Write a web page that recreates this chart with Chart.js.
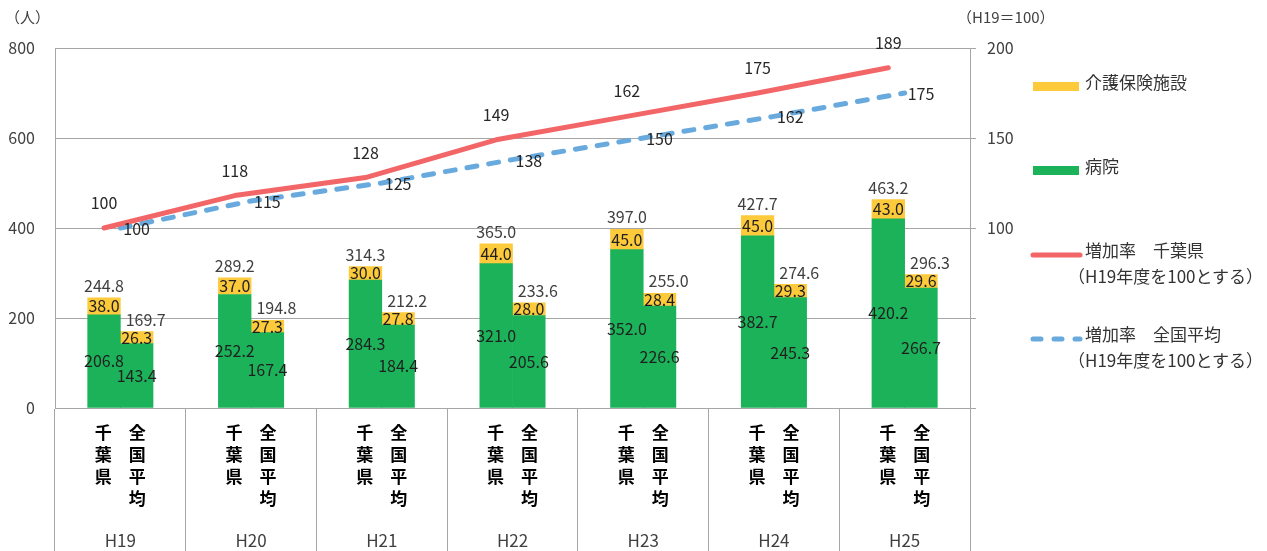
<!DOCTYPE html>
<html lang="ja">
<head>
<meta charset="utf-8">
<title>病床数の推移</title>
<script src="https://cdn.jsdelivr.net/npm/chart.js@4.4.1/dist/chart.umd.min.js"></script>
<style>
  body { margin: 0; background: #fff; font-family: "Noto Sans CJK JP", sans-serif; }
  #wrap { position: relative; width: 1267px; height: 551px; }
  #legend { position: absolute; left: 1030px; top: 0; width: 237px; height: 551px; }
  #legend .item { position: absolute; left: 0; height: 26px; line-height: 26px; font-size: 17px; color: #333; white-space: nowrap; }
  #legend .item:nth-child(1) { top: 69px; }
  #legend .item:nth-child(2) { top: 153px; }
  #legend .item:nth-child(3) { top: 237px; }
  #legend .item:nth-child(4) { top: 321px; }
  #legend .box { position: absolute; left: 3px; top: 13px; width: 46px; height: 9px; }
  #legend svg { position: absolute; left: 0; top: 13px; }
  #legend .text { position: absolute; left: 55px; top: 0; }
  #legend .note { position: absolute; left: 38px; top: 26px; }
</style>
</head>
<body>
<div id="wrap">
  <canvas id="bedChart"></canvas>
  <div id="legend"></div>
</div>
<script>
// 年度
const years = ['H19', 'H20', 'H21', 'H22', 'H23', 'H24', 'H25'];
// 縦書きの区分ラベル
const chibaChars = ['千', '葉', '県'];
const zenkokuChars = ['全', '国', '平', '均'];

// 病院 / 介護保険施設（人）
const hospChiba = [206.8, 252.2, 284.3, 321.0, 352.0, 382.7, 420.2];
const careChiba = [38.0, 37.0, 30.0, 44.0, 45.0, 45.0, 43.0];
const hospZenkoku = [143.4, 167.4, 184.4, 205.6, 226.6, 245.3, 266.7];
const careZenkoku = [26.3, 27.3, 27.8, 28.0, 28.4, 29.3, 29.6];
// 合計（表示値）
const totalChiba = [244.8, 289.2, 314.3, 365.0, 397.0, 427.7, 463.2];
const totalZenkoku = [169.7, 194.8, 212.2, 233.6, 255.0, 274.6, 296.3];

// 増加率（H19=100）
const rateChiba = [100, 118, 128, 149, 162, 175, 189];
const rateZenkoku = [100, 115, 125, 138, 150, 162, 175];

const careLabel = '介護保険施設';
const hospLabel = '病院';
const rateChibaLabel = '増加率　千葉県';
const rateZenkokuLabel = '増加率　全国平均';
const rateNote = '（H19年度を100とする）';

const green = '#1cb25a';
const yellow = '#fdca3c';
const red = '#f26668';
const blue = '#68aade';
const gridColor = '#a6a6a6';
const fontFamily = '"Noto Sans CJK JP", sans-serif';

Chart.defaults.font.family = fontFamily;

// 2本の棒が占めるカテゴリ幅の割合
const groupPct = 0.5;
// 千葉県の棒の中心（カテゴリ単位）
const chibaShift = -groupPct / 4;
const barWidth = (ctx) => ctx.chart.scales.x.width / years.length * groupPct / 2;

// 縦書き2列を全角スペースで並べる
const pairLines = [];
for (let k = 0; k < Math.max(chibaChars.length, zenkokuChars.length); k++) {
    pairLines.push((chibaChars[k] || '　') + '　' + (zenkokuChars[k] || '　'));
}

const valueLabels = {
    id: 'valueLabels',
    afterDatasetsDraw(chart) {
        const ctx = chart.ctx;
        ctx.save();
        ctx.font = '16px ' + fontFamily;
        ctx.textBaseline = 'middle';
        chart.data.datasets.forEach((ds, di) => {
            const meta = chart.getDatasetMeta(di);
            meta.data.forEach((el, i) => {
                if (ds.type === 'line') {
                    const v = ds.data[i].y;
                    ctx.fillStyle = '#262626';
                    if (ds.labelSide === 'right') {
                        ctx.textAlign = 'left';
                        ctx.fillText(v, el.x + 3, el.y + 1);
                    } else {
                        ctx.textAlign = 'center';
                        ctx.fillText(v, el.x, el.y - 25);
                    }
                    return;
                }
                ctx.textAlign = 'center';
                ctx.fillStyle = '#1f1f1f';
                ctx.fillText(ds.data[i].toFixed(1), el.x, (el.y + el.base) / 2);
                if (ds.totals) {
                    ctx.fillStyle = '#404040';
                    ctx.fillText(ds.totals[i].toFixed(1), el.x + ds.totalShift, el.y - 12);
                }
            });
        });
        ctx.restore();
    },
    afterDraw(chart) {
        const ctx = chart.ctx;
        ctx.save();
        ctx.font = '15px ' + fontFamily;
        ctx.fillStyle = '#404040';
        ctx.textBaseline = 'middle';
        ctx.textAlign = 'left';
        ctx.fillText('（人）', chart.scales.y.left + 5, 17);
        ctx.fillText('（H19＝100）', chart.scales.y1.left - 13, 17);
        ctx.restore();
    }
};

const bedChart = new Chart(document.getElementById('bedChart'), {
    type: 'bar',
    data: {
        labels: years,
        datasets: [
            {
                type: 'line', label: rateChibaLabel, order: 0,
                data: rateChiba.map((v, i) => ({ x: i + chibaShift, y: v })),
                xAxisID: 'x2', yAxisID: 'y1',
                borderColor: red, backgroundColor: red, borderWidth: 5,
                pointRadius: 0, tension: 0, fill: false,
                borderCapStyle: 'round', borderJoinStyle: 'round'
            },
            {
                type: 'line', label: rateZenkokuLabel, order: 0, labelSide: 'right',
                data: rateZenkoku.map((v, i) => ({ x: i, y: v })),
                xAxisID: 'x2', yAxisID: 'y1',
                borderColor: blue, backgroundColor: blue, borderWidth: 5,
                borderDash: [10, 12], pointRadius: 0, tension: 0, fill: false,
                borderCapStyle: 'round', borderJoinStyle: 'round'
            },
            {
                label: hospLabel, data: hospChiba, stack: 'chiba', order: 1,
                backgroundColor: green, xAxisID: 'x', yAxisID: 'y'
            },
            {
                label: careLabel, data: careChiba, stack: 'chiba', order: 1,
                backgroundColor: yellow, xAxisID: 'x', yAxisID: 'y',
                totals: totalChiba, totalShift: 0
            },
            {
                label: hospLabel, data: hospZenkoku, stack: 'zenkoku', order: 1,
                backgroundColor: green, xAxisID: 'x', yAxisID: 'y'
            },
            {
                label: careLabel, data: careZenkoku, stack: 'zenkoku', order: 1,
                backgroundColor: yellow, xAxisID: 'x', yAxisID: 'y',
                totals: totalZenkoku, totalShift: 9
            }
        ]
    },
    options: {
        responsive: true,
        maintainAspectRatio: false,
        animation: false,
        datasets: {
            bar: { barThickness: barWidth }
        },
        layout: { padding: { top: 48, right: 237, bottom: 0, left: 0 } },
        plugins: {
            legend: { display: false },
            tooltip: { enabled: false }
        },
        scales: {
            x: {
                type: 'category',
                stacked: true,
                offset: true,
                weight: 0,
                grid: {
                    offset: true,
                    drawOnChartArea: false,
                    drawTicks: true,
                    tickLength: 143,
                    color: gridColor,
                    tickColor: gridColor
                },
                border: { display: true, color: gridColor },
                ticks: {
                    callback: () => pairLines,
                    font: { size: 17, weight: 'bold', lineHeight: 1.3 },
                    color: '#000',
                    padding: -130,
                    maxRotation: 0,
                    minRotation: 0,
                    autoSkip: false
                },
                afterFit: (s) => { s.height = 110; }
            },
            xYear: {
                type: 'category',
                position: 'bottom',
                weight: 1,
                offset: true,
                grid: { display: false, drawTicks: false },
                border: { display: false },
                ticks: { font: { size: 17 }, color: '#404040', padding: 12, maxRotation: 0, autoSkip: false },
                afterFit: (s) => { s.height = 33; }
            },
            x2: {
                type: 'linear',
                display: false,
                offset: false,
                bounds: 'data',
                min: -0.5,
                max: 6.5
            },
            y: {
                position: 'left',
                stacked: true,
                min: 0,
                max: 800,
                ticks: { stepSize: 200, padding: 20, font: { size: 16 }, color: '#404040' },
                grid: { color: gridColor, drawTicks: false },
                border: { color: gridColor },
                afterFit: (s) => { s.width = 55; }
            },
            y1: {
                position: 'right',
                min: 0,
                max: 200,
                ticks: {
                    stepSize: 50,
                    padding: 11,
                    font: { size: 16 },
                    color: '#404040',
                    callback: (v) => (v >= 100 ? v : '')
                },
                grid: { drawOnChartArea: false, tickLength: 6, color: gridColor },
                border: { color: gridColor },
                afterFit: (s) => { s.width = 60; }
            }
        }
    },
    plugins: [valueLabels]
});

// HTML legend
function buildLegend(chart) {
    const holder = document.getElementById('legend');
    const order = [careLabel, hospLabel, rateChibaLabel, rateZenkokuLabel];
    order.forEach((label) => {
        const ds = chart.data.datasets.find((d) => d.label === label);
        const item = document.createElement('div');
        item.className = 'item';
        let mark;
        if (ds.type === 'line') {
            const dash = ds.borderDash ? ' stroke-dasharray="8 13"' : '';
            mark = '<svg width="54" height="10"><line x1="3" y1="5" x2="50" y2="5" stroke="' +
                ds.borderColor + '" stroke-width="5" stroke-linecap="round"' + dash + '/></svg>';
            item.innerHTML = mark + '<span class="text">' + label + '</span>' +
                '<span class="note">' + rateNote + '</span>';
        } else {
            mark = '<div class="box" style="background:' + ds.backgroundColor + '"></div>';
            item.innerHTML = mark + '<span class="text">' + label + '</span>';
        }
        holder.appendChild(item);
    });
}
buildLegend(bedChart);
</script>
</body>
</html>
